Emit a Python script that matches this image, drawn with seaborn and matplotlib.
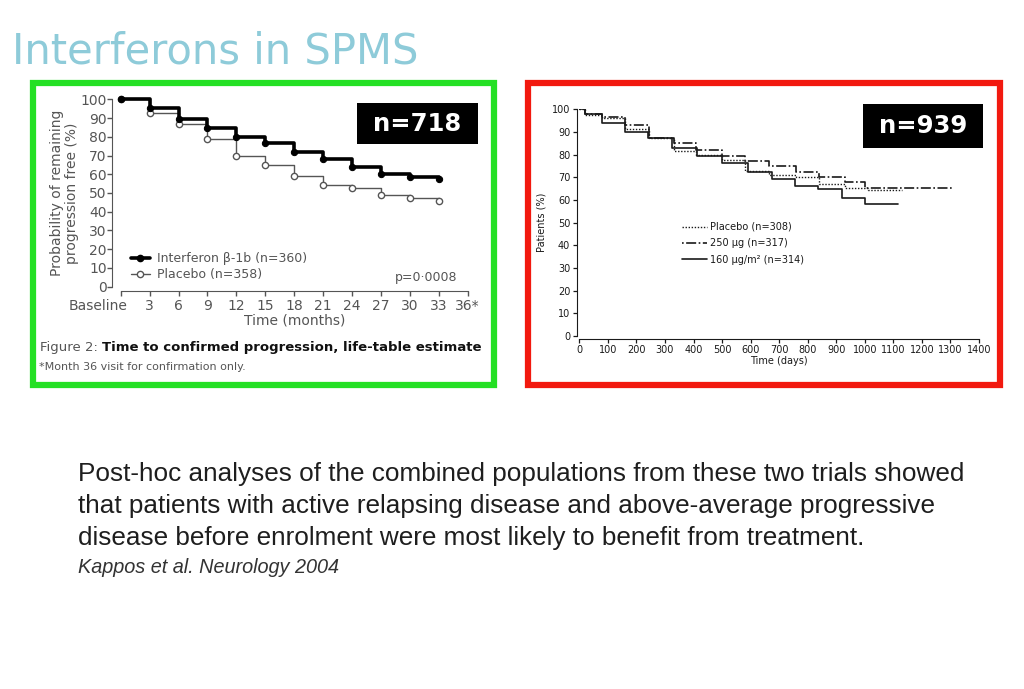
import matplotlib
matplotlib.use("Agg")
import matplotlib.pyplot as plt
import matplotlib.transforms as mtransforms
from matplotlib.patches import Rectangle
from matplotlib.lines import Line2D
import seaborn as sns
import pandas as pd

# ---- data: left panel (months, % progression free) ----
months = [0, 3, 6, 9, 12, 15, 18, 21, 24, 27, 30, 33]
ifn_pct = [100, 95.2, 89.3, 84.5, 80.1, 76.5, 72.1, 68.3, 64.1, 60.1, 58.4, 57.3]
pbo_pct = [100, 92.5, 86.7, 78.6, 69.8, 64.8, 59.1, 54.3, 52.8, 48.9, 47.2, 45.7]
month_ticks = list(range(0, 37, 3))
month_labels = ["Baseline"] + [str(m) for m in range(3, 34, 3)] + ["36*"]

# ---- data: right panel (days, % patients) ----
pbo_days = [0, 20, 78, 160, 245, 330, 410, 500, 580, 665, 760, 840, 930, 1010, 1130]
pbo_pats = [100, 97.5, 96, 91.5, 87.5, 81.5, 80, 77.5, 73, 71, 70, 67, 65.5, 64.5, 64.5]
d250_days = [0, 20, 78, 160, 245, 330, 410, 500, 580, 665, 760, 840, 930, 1000, 1310]
d250_pats = [100, 98, 96.5, 93, 87.5, 85, 82, 79.5, 77.3, 75, 72.3, 70, 68, 65.3, 65.3]
d160_days = [0, 20, 78, 160, 242, 323, 411, 499, 592, 674, 755, 837, 919, 1000, 1117]
d160_pats = [100, 98, 94, 90, 87.2, 82.8, 79.4, 76.5, 72.5, 69.1, 66.2, 64.7, 60.7, 58.2, 58.2]

body_lines = [
    "Post-hoc analyses of the combined populations from these two trials showed",
    "that patients with active relapsing disease and above-average progressive",
    "disease before enrolment were most likely to benefit from treatment.",
]

sns.set_style("ticks")
plt.rcParams["font.family"] = ["DejaVu Sans"]

W, H = 1024, 689
fig = plt.figure(figsize=(W / 100, H / 100), dpi=100)


def fx(px):
    return px / W


def fy(py):
    return 1 - py / H


# slide title
fig.text(fx(12), fy(51), "Interferons in SPMS", fontsize=30, color="#8ecbd9",
         va="center", ha="left")

# coloured frames
fig.add_artist(Rectangle((fx(33), fy(385)), fx(494 - 33), (385 - 83) / H,
                         fill=False, ec="#24e024", lw=4.5, transform=fig.transFigure))
fig.add_artist(Rectangle((fx(528), fy(385)), fx(1000 - 528), (385 - 83) / H,
                         fill=False, ec="#f2190f", lw=4.5, transform=fig.transFigure))

# ---------------- left panel ----------------
grey = "#555555"
ax1 = fig.add_axes([fx(120.7), fy(286.7), fx(467.7 - 120.7), (286.7 - 99.3) / H])
left = pd.DataFrame({"month": months, "ifn": ifn_pct, "pbo": pbo_pct})
sns.lineplot(data=left, x="month", y="pbo", ax=ax1, color=grey, lw=1,
             drawstyle="steps-post", marker="o", markersize=4.5,
             markerfacecolor="white", markeredgecolor=grey, markeredgewidth=1,
             estimator=None, clip_on=False)
sns.lineplot(data=left, x="month", y="ifn", ax=ax1, color="black", lw=2.6,
             drawstyle="steps-post", marker="o", markersize=4.5,
             markerfacecolor="black", markeredgecolor="black",
             estimator=None, clip_on=False)
ax1.set_xlim(0, 36)
ax1.set_ylim(0, 100)
ax1.set_xticks(month_ticks)
ax1.set_xticklabels(month_labels)
ax1.set_yticks(range(0, 101, 10))
ax1.tick_params(axis="both", colors=grey, labelsize=10, length=3.5, width=1, pad=2)
ax1.tick_params(axis="y", pad=0.5)
for s in ax1.spines.values():
    s.set_color(grey)
sns.despine(ax=ax1, offset={"left": 6, "bottom": 3}, trim=True)
lbl0 = ax1.get_xticklabels()[0]
lbl0.set_ha("right")
lbl0.set_transform(lbl0.get_transform() + mtransforms.ScaledTranslation(7 / 100, 0, fig.dpi_scale_trans))
ax1.set_xlabel("Time (months)", fontsize=10, color=grey, labelpad=1)
ax1.set_ylabel("Probability of remaining\nprogression free (%)", fontsize=10,
               color=grey, labelpad=1, linespacing=1.1)
h1 = [Line2D([], [], color="black", lw=2.6, marker="o", markersize=4.5),
      Line2D([], [], color=grey, lw=1, marker="o", markersize=4.5,
             markerfacecolor="white", markeredgecolor=grey)]
ax1.legend(h1, ["Interferon \u03b2-1b (n=360)", "Placebo (n=358)"], loc="upper left",
           bbox_to_anchor=(0.03, 0.185), frameon=False, fontsize=9, labelcolor=grey,
           handlelength=1.5, handletextpad=0.6, labelspacing=0.25,
           borderpad=0, borderaxespad=0)
ax1.text(0.97, 0.05, "p=0\u00b70008", transform=ax1.transAxes, ha="right",
         va="center", fontsize=9, color=grey)

# n=718 badge
fig.add_artist(Rectangle((fx(357), fy(144)), fx(121), 41 / H, fc="black",
                         ec="none", transform=fig.transFigure))
fig.text(fx(417.5), fy(124), "n=718", color="white", fontsize=17.5,
         fontweight="bold", ha="center", va="center")

# caption
t1 = fig.text(fx(40), fy(348), "Figure 2: ", fontsize=9.5, color=grey, va="center")
fig.canvas.draw()
bb = t1.get_window_extent(fig.canvas.get_renderer())
fig.text(bb.x1 / W, fy(348), "Time to confirmed progression, life-table estimate",
         fontsize=9.5, fontweight="bold", color="#111111", va="center")
fig.text(fx(39), fy(366.5), "*Month 36 visit for confirmation only.", fontsize=8,
         color=grey, va="center")

# ---------------- right panel ----------------
ax2 = fig.add_axes([fx(579.3), fy(336), fx(979 - 579.3), (336 - 109.3) / H])
ink = "#1a1a1a"
series = [
    ("Placebo (n=308)", pbo_days, pbo_pats, (0, (1, 1.2)), 1.0),
    ("250 \u00b5g (n=317)", d250_days, d250_pats, (0, (1, 1.5, 6, 1.5)), 1.2),
    ("160 \u00b5g/m\u00b2 (n=314)", d160_days, d160_pats, "-", 1.2),
]
handles = []
for name, d, p, ls, lw in series:
    df = pd.DataFrame({"day": d, "pct": p})
    sns.lineplot(data=df, x="day", y="pct", ax=ax2, color=ink, lw=lw,
                 drawstyle="steps-post", linestyle=ls, estimator=None)
    handles.append(Line2D([], [], color=ink, lw=lw, linestyle=ls))
ax2.set_xlim(0, 1400)
ax2.set_ylim(0, 100)
ax2.set_xticks(range(0, 1401, 100))
ax2.set_yticks(range(0, 101, 10))
ax2.tick_params(axis="both", colors=ink, labelsize=7, length=3, width=0.9, pad=1.5)
for s in ax2.spines.values():
    s.set_color(ink)
sns.despine(ax=ax2, offset=2, trim=True)
ax2.set_xlabel("Time (days)", fontsize=7, color=ink, labelpad=1)
ax2.set_ylabel("Patients (%)", fontsize=7, color=ink, labelpad=4)
ax2.legend(handles, [s[0] for s in series], loc="upper left",
           bbox_to_anchor=(0.256, 0.503), frameon=False, fontsize=7,
           labelcolor=ink, handlelength=2.6, handletextpad=0.35,
           labelspacing=0.65, borderpad=0, borderaxespad=0)

# n=939 badge
fig.add_artist(Rectangle((fx(862.7), fy(147.7)), fx(120.6), 43.7 / H, fc="black",
                         ec="none", transform=fig.transFigure))
fig.text(fx(923), fy(126), "n=939", color="white", fontsize=17.5,
         fontweight="bold", ha="center", va="center")

# bottom text
for line, base in zip(body_lines, [481.5, 513, 544.5]):
    fig.text(fx(78), fy(base), line, fontsize=18.8, family="Liberation Sans",
             color="#1e1e1e", va="baseline", ha="left")
fig.text(fx(78), fy(573), "Kappos et al. Neurology 2004", fontsize=14.3,
         family="Liberation Sans", style="italic", color="#333333", va="baseline")

fig.savefig("out.png", dpi=100, facecolor="white")
